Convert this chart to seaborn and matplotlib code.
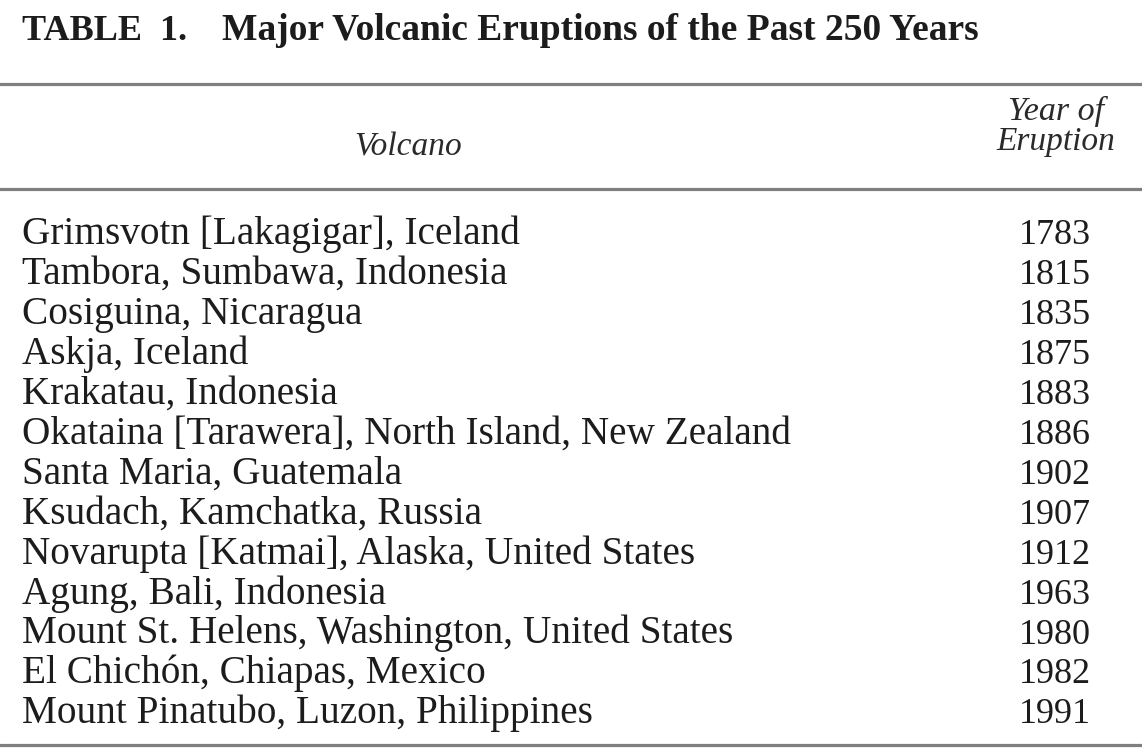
import matplotlib
matplotlib.use("Agg")
import matplotlib.pyplot as plt
import seaborn as sns

# ---- data ----
title_label = "TABLE  1."
title_text = "Major Volcanic Eruptions of the Past 250 Years"
col_headers = ["Volcano", "Year of\nEruption"]
volcanoes = [
    "Grimsvotn [Lakagigar], Iceland",
    "Tambora, Sumbawa, Indonesia",
    "Cosiguina, Nicaragua",
    "Askja, Iceland",
    "Krakatau, Indonesia",
    "Okataina [Tarawera], North Island, New Zealand",
    "Santa Maria, Guatemala",
    "Ksudach, Kamchatka, Russia",
    "Novarupta [Katmai], Alaska, United States",
    "Agung, Bali, Indonesia",
    "Mount St. Helens, Washington, United States",
    "El Chichón, Chiapas, Mexico",
    "Mount Pinatubo, Luzon, Philippines",
]
years = [1783, 1815, 1835, 1875, 1883, 1886, 1902, 1907, 1912, 1963, 1980, 1982, 1991]

# ---- style ----
sns.set_theme(style="white")
plt.rcParams["font.family"] = ["Liberation Serif", "DejaVu Serif"]

W, H = 1142, 754
fig = plt.figure(figsize=(W / 100, H / 100), dpi=100)
ax = fig.add_axes([0, 0, 1, 1])
ax.set_xlim(0, W)
ax.set_ylim(H, 0)
ax.axis("off")

ink = "#1c1c1c"

# title
ax.text(22, 40, title_label, fontsize=26, fontweight="bold", ha="left", va="baseline", color=ink)
ax.text(222, 40, title_text, fontsize=27, fontweight="bold", ha="left", va="baseline", color=ink)

# rules
rule_color = "#7f7f7f"
for yy in (84, 189, 745):
    ax.axhline(yy, color=rule_color, linewidth=2.3)

# headers
ax.text(408, 156, col_headers[0], fontsize=24, style="italic", ha="center", va="baseline", color="#2a2a2a")
for j, line in enumerate(col_headers[1].split("\n")):
    ax.text(1056, 120 + 30 * j, line, fontsize=24.5 if j == 0 else 24, style="italic",
            ha="center", va="baseline", color="#2a2a2a")

# rows
y0, step = 244, 39.95
for i, (name, yr) in enumerate(zip(volcanoes, years)):
    yb = y0 + i * step
    ax.text(22, yb, name, fontsize=28.3, ha="left", va="baseline", color=ink)
    ax.text(1091, yb, str(yr), fontsize=26, ha="right", va="baseline", color=ink)

fig.savefig("out.png", dpi=100, facecolor="white")
